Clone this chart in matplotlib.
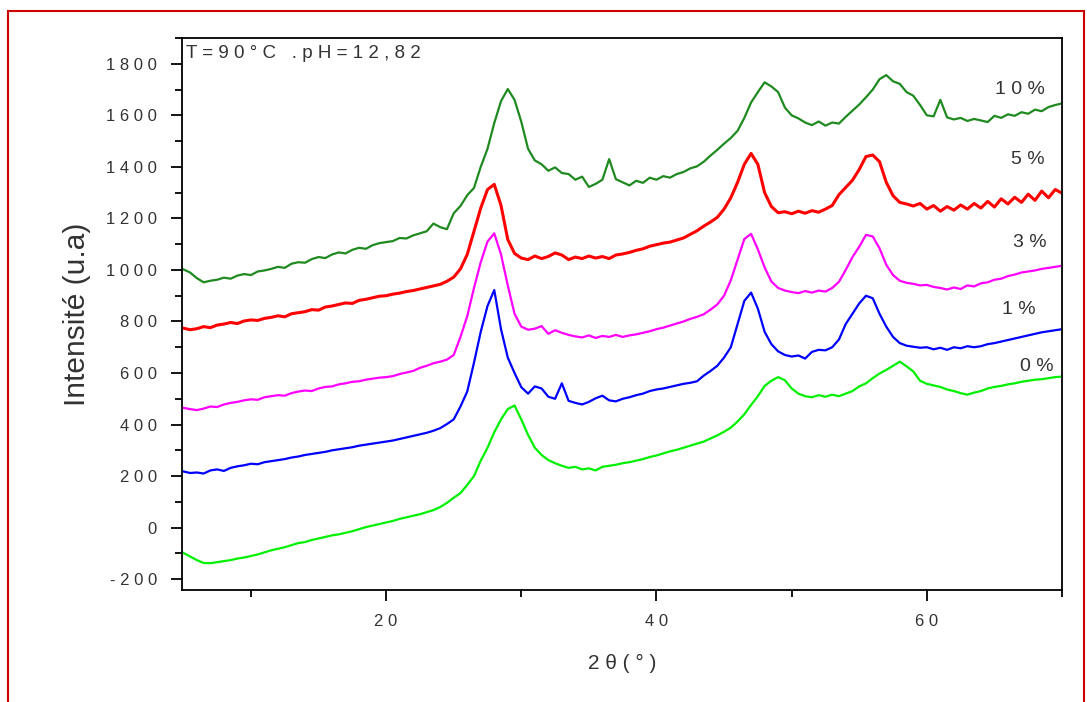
import numpy as np
import matplotlib
matplotlib.use("Agg")
import matplotlib.pyplot as plt
from matplotlib.ticker import MultipleLocator, FuncFormatter
from matplotlib.patches import Rectangle

plt.rcParams['font.family'] = ['Liberation Sans', 'DejaVu Sans']

# 2theta grid (degrees)
two_theta = np.arange(5.0, 70.01, 0.5)

s10 = [1002, 990, 968, 952, 958, 962, 970, 966, 978, 984,
       980, 994, 998, 1004, 1012, 1008, 1024, 1030, 1028, 1042,
       1050, 1046, 1060, 1068, 1064, 1078, 1086, 1082, 1096, 1104,
       1108, 1112, 1124, 1122, 1134, 1142, 1150, 1180, 1166, 1158,
       1220, 1248, 1290, 1318, 1400, 1470, 1570, 1655, 1702, 1660,
       1575, 1470, 1425, 1410, 1385, 1398, 1376, 1372, 1350, 1362,
       1322, 1334, 1350, 1430, 1352, 1340, 1328, 1346, 1338, 1358,
       1350, 1364, 1358, 1372, 1380, 1394, 1402, 1420, 1444, 1466,
       1490, 1512, 1540, 1590, 1650, 1690, 1728, 1712, 1690, 1630,
       1600, 1588, 1572, 1562, 1576, 1560, 1572, 1568, 1594, 1618,
       1642, 1670, 1700, 1740, 1756, 1732, 1722, 1690, 1676, 1640,
       1600, 1596, 1660, 1592, 1584, 1590, 1578, 1586, 1580, 1574,
       1598, 1590, 1604, 1598, 1612, 1606, 1622, 1616, 1632, 1640,
       1646]

s5 = [774, 768, 772, 780, 776, 786, 790, 796, 792, 802,
      806, 804, 812, 816, 822, 818, 830, 834, 838, 846,
      844, 856, 860, 866, 872, 870, 882, 886, 892, 898,
      900, 906, 910, 916, 920, 926, 932, 938, 944, 956,
      972, 1004, 1060, 1150, 1240, 1312, 1332, 1250, 1118, 1064,
      1046, 1040, 1054, 1044, 1052, 1066, 1058, 1040, 1050, 1044,
      1054, 1046, 1052, 1044, 1058, 1062, 1068, 1076, 1082, 1092,
      1098, 1104, 1108, 1116, 1124, 1138, 1152, 1170, 1186, 1204,
      1236, 1280, 1340, 1410, 1452, 1410, 1300, 1246, 1222, 1226,
      1218, 1228, 1220, 1230, 1224, 1236, 1250, 1292, 1320, 1348,
      1390, 1440, 1446, 1420, 1340, 1288, 1262, 1256, 1248, 1258,
      1236, 1250, 1228, 1246, 1232, 1252, 1236, 1258, 1240, 1266,
      1244, 1276, 1256, 1282, 1262, 1294, 1270, 1306, 1280, 1312,
      1298]

s3 = [465, 460, 456, 462, 470, 468, 478, 484, 488, 494,
      498, 496, 506, 510, 514, 512, 522, 528, 532, 530,
      540, 546, 548, 556, 560, 566, 568, 574, 578, 582,
      584, 588, 596, 602, 608, 620, 628, 638, 644, 652,
      670, 740, 820, 930, 1030, 1110, 1142, 1060, 940, 830,
      780, 768, 772, 782, 752, 766, 756, 748, 742, 738,
      746, 736, 744, 740, 748, 740, 746, 750, 756, 762,
      770, 776, 784, 792, 800, 810, 818, 828, 846, 866,
      900, 960, 1040, 1120, 1140, 1080, 1010, 955, 930, 920,
      914, 910, 918, 912, 920, 916, 930, 954, 1000, 1050,
      1090, 1136, 1130, 1084, 1020, 980, 958, 950, 946, 940,
      942, 934, 930, 924, 932, 926, 940, 936, 948, 952,
      962, 966, 976, 982, 990, 994, 998, 1004, 1008, 1012,
      1016]

s1 = [218, 212, 214, 210, 222, 226, 220, 232, 238, 242,
      248, 246, 254, 258, 262, 266, 272, 276, 282, 286,
      290, 294, 300, 304, 308, 312, 318, 322, 326, 330,
      334, 338, 344, 350, 356, 362, 368, 376, 386, 402,
      420, 470, 528, 640, 760, 860, 922, 770, 660, 600,
      545, 520, 548, 540, 508, 500, 560, 492, 484, 478,
      488, 502, 512, 494, 490, 500, 506, 514, 520, 530,
      536, 540, 546, 552, 558, 562, 568, 590, 608, 628,
      660, 700, 790, 880, 912, 850, 760, 712, 684, 670,
      664, 668, 656, 682, 690, 688, 700, 730, 790, 830,
      870, 900, 890, 830, 780, 740, 716, 706, 702, 698,
      700, 692, 698, 690, 700, 696, 704, 700, 704, 712,
      716, 722, 728, 734, 740, 746, 752, 758, 762, 766,
      770]

s0 = [-98, -112, -126, -137, -138, -134, -130, -126, -120, -116,
      -110, -104, -96, -88, -82, -76, -68, -60, -56, -48,
      -42, -36, -30, -26, -20, -14, -6, 2, 8, 14,
      20, 26, 34, 40, 46, 52, 60, 68, 80, 96,
      116, 134, 166, 200, 260, 310, 370, 420, 460, 474,
      420, 360, 310, 282, 262, 250, 240, 232, 236, 226,
      230, 222, 236, 240, 244, 250, 254, 260, 266, 274,
      280, 288, 296, 302, 310, 318, 326, 334, 346, 358,
      372, 388, 412, 440, 476, 510, 550, 570, 584, 572,
      540, 520, 510, 506, 514, 508, 516, 510, 520, 530,
      548, 560, 580, 598, 612, 628, 644, 626, 606, 570,
      558, 552, 546, 536, 530, 522, 516, 524, 530, 540,
      546, 550, 556, 560, 566, 570, 574, 576, 580, 584,
      586]

series_labels = ["10 %", "5 %", "3 %", "1 %", "0 %"]
series_colors = ["#1f8a1f", "#ff0000", "#ff00ff", "#0000ff", "#00f000"]
label_pos = [(66.9, 1700), (67.5, 1428), (67.6, 1106), (66.8, 846), (68.1, 625)]

fig = plt.figure(figsize=(10.87, 7.02), dpi=100)
ax = fig.add_axes([182/1087, 1 - 590/702, (1062-182)/1087, (590-38)/702])

for ys, c, lw in zip([s10, s5, s3, s1, s0], series_colors, [1.6, 2.2, 1.6, 1.6, 1.6]):
    ax.plot(two_theta, ys, color=c, lw=lw, solid_joinstyle='round')

for lab, (px, py) in zip(series_labels, label_pos):
    ax.text(px, py, " ".join(lab.replace(" ", "")), color="#333333", fontsize=14,
            ha="center", va="center")

ax.set_xlim(4.9, 70)
ax.set_ylim(-242, 1900)
ax.xaxis.set_major_locator(MultipleLocator(20))
ax.xaxis.set_minor_locator(MultipleLocator(10))
ax.yaxis.set_major_locator(MultipleLocator(200))
ax.yaxis.set_minor_locator(MultipleLocator(100))

spaced = FuncFormatter(lambda v, p: " ".join(str(int(round(v)))))
ax.xaxis.set_major_formatter(spaced)
ax.yaxis.set_major_formatter(spaced)

ax.tick_params(axis='both', which='major', direction='out', length=8, width=1.3,
               labelsize=12, labelcolor="#333333")
ax.tick_params(axis='both', which='minor', direction='out', length=5, width=1.3)
ax.tick_params(axis='y', which='major', pad=10)
ax.tick_params(axis='x', which='major', pad=9)
for sp in ax.spines.values():
    sp.set_linewidth(1.3)

ax.text(0.004, 0.988, "T = 9 0 ° C   . p H = 1 2 , 8 2", transform=ax.transAxes,
        fontsize=13.5, color="#333333", ha="left", va="top")

ax.set_xlabel("2 θ ( ° )", fontsize=15, color="#333333", labelpad=18)
ax.set_ylabel("Intensité (u.a)", fontsize=21.5, color="#333333", labelpad=11)

# red frame around the figure
fig.patches.append(Rectangle((8/1087, -0.05), (1084-8)/1087, 1 - 11/702 + 0.05,
                             transform=fig.transFigure, fill=False,
                             edgecolor="#cc0000", lw=1.5))

fig.savefig("out.png", dpi=100)
